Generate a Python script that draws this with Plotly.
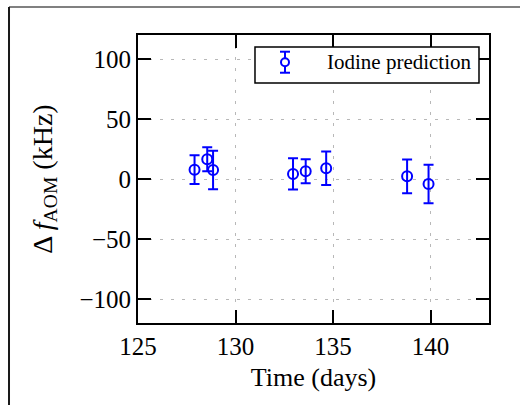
import plotly.graph_objects as go

# Iodine-referenced AOM frequency offsets
days = [127.9, 128.55, 128.85, 132.95, 133.6, 134.65, 138.8, 139.9]
delta_f = [7.8, 16.5, 7.5, 4.2, 6.5, 9.0, 2.2, -4.2]
delta_err = [12.0, 10.0, 16.0, 13.0, 10.0, 14.0, 14.0, 16.0]

x_ticks = [125, 130, 135, 140]
y_ticks = [-100, -50, 0, 50, 100]
y_tick_text = ["\u2212100", "\u221250", "0", "50", "100"]
series_name = "Iodine prediction"

blue = "#0000ff"
serif = "Liberation Serif"

fig = go.Figure()
fig.add_trace(go.Scatter(
    x=days, y=delta_f, mode="markers", name=series_name, showlegend=False,
    marker=dict(symbol="circle-open", size=10, color=blue, line=dict(width=2, color=blue)),
    error_y=dict(type="data", array=delta_err, visible=True, color=blue, thickness=2, width=5),
))

axis_common = dict(
    showline=True, linecolor="black", linewidth=2, mirror="ticks",
    ticks="inside", ticklen=13, tickwidth=2, tickcolor="black",
    showgrid=True, gridcolor="#b8b8b8", gridwidth=1.2, griddash="3px,8px",
    zeroline=False, tickfont=dict(family=serif, size=25, color="black"),
)

fig.update_xaxes(range=[125, 143], tickvals=x_ticks,
                 title=dict(text="Time (days)", font=dict(family=serif, size=26, color="black"), standoff=9),
                 **axis_common)
fig.update_yaxes(range=[-120, 120], tickvals=y_ticks, ticktext=y_tick_text,
                 title=dict(text="\u0394 <i>f</i><sub>AOM</sub> (kHz)", font=dict(family=serif, size=28, color="black"), standoff=19),
                 **axis_common)

# frame lines of the surrounding panel
fig.add_shape(type="line", xref="paper", yref="paper", x0=-0.3675, x1=1.2, y0=1.097, y1=1.097,
              line=dict(color="#808080", width=2), layer="above")
fig.add_shape(type="line", xref="paper", yref="paper", x0=-0.3675, x1=-0.3675, y0=1.097, y1=-0.3,
              line=dict(color="#1a1a1a", width=2), layer="above")

# legend box with an error-bar glyph
lx0, lx1, ly0, ly1 = 0.3333, 0.9715, 0.8333, 0.9583
gx, gy = 0.4188, 0.9052
fig.add_shape(type="rect", xref="paper", yref="paper", x0=lx0, x1=lx1, y0=ly0, y1=ly1,
              line=dict(color="black", width=1.5), fillcolor="white", layer="above")
bar_lo, bar_hi, cap = 0.869, 0.942, 0.0143
for (xa, ya, xb, yb) in [(gx, bar_lo, gx, gy - 0.0139), (gx, gy + 0.0139, gx, bar_hi),
                         (gx - cap, bar_lo, gx + cap, bar_lo), (gx - cap, bar_hi, gx + cap, bar_hi)]:
    fig.add_shape(type="line", xref="paper", yref="paper", x0=xa, y0=ya, x1=xb, y1=yb,
                  line=dict(color=blue, width=2), layer="above")
fig.add_shape(type="circle", xref="paper", yref="paper",
              x0=gx - 0.0114, x1=gx + 0.0114, y0=gy - 0.0139, y1=gy + 0.0139,
              line=dict(color=blue, width=2), fillcolor="white", layer="above")
fig.add_annotation(xref="paper", yref="paper", x=0.5328, y=gy, xanchor="left", yanchor="middle",
                   text=series_name, showarrow=False, font=dict(family=serif, size=21, color="black"))

fig.update_layout(
    width=520, height=405,
    margin=dict(l=138, r=31, t=35, b=82),
    paper_bgcolor="white", plot_bgcolor="white",
    font=dict(family=serif, color="black"),
    showlegend=False,
)

fig.write_html("out.html")
